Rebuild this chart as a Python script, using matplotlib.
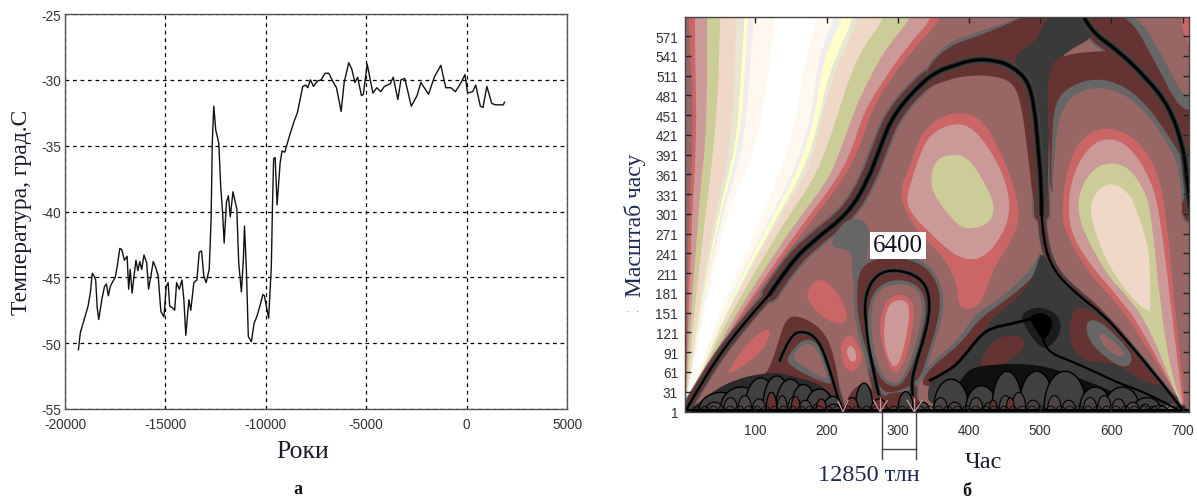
import numpy as np
import matplotlib
matplotlib.use("Agg")
import matplotlib.pyplot as plt
from matplotlib.patches import PathPatch
from matplotlib.path import Path

W, H = 1197, 502
SERIF = "Liberation Serif"
SANS = "Liberation Sans"
plt.rcParams["axes.unicode_minus"] = False

# --- panel a: temperature record ---
YEARS = [-19332, -19236, -19045, -18854, -18740, -18644, -18549, -18472, -18396, -18319,
         -18167, -18033, -17937, -17842, -17746, -17613, -17498, -17403, -17269, -17173,
         -17040, -16906, -16830, -16753, -16658, -16562, -16467, -16371, -16276, -16180,
         -16066, -15932, -15837, -15722, -15607, -15493, -15359, -15225, -15073, -14958,
         -14863, -14786, -14653, -14538, -14442, -14309, -14175, -14080, -13984, -13831,
         -13736, -13583, -13430, -13316, -13201, -13087, -12972, -12819, -12724, -12666,
         -12590, -12494, -12342, -12246, -12151, -12074, -11960, -11864, -11769, -11635,
         -11444, -11349, -11215, -11119, -11062, -10967, -10871, -10718, -10585, -10451,
         -10298, -10145, -10069, -9974, -9859, -9725, -9668, -9611, -9534, -9439,
         -9286, -9191, -9057, -8961, -8770, -8579, -8427, -8293, -8159, -8006,
         -7911, -7777, -7624, -7434, -7243, -7052, -6861, -6670, -6479, -6249,
         -6097, -5867, -5715, -5562, -5428, -5237, -5142, -4951, -4798, -4664,
         -4473, -4282, -4091, -3805, -3652, -3423, -3270, -3079, -2755, -2468,
         -2277, -1895, -1609, -1284, -1036, -787, -558, -272, -81, 53,
         301, 454, 683, 817, 1008, 1256, 1447, 1829, 1886]
TEMPS = [-50.5, -49.2, -48.2, -47.2, -46.2, -44.7, -44.9, -45.2, -47.3, -48.2,
         -46.7, -45.7, -45.5, -46.4, -45.7, -45.3, -45.0, -44.2, -42.8, -42.9,
         -43.7, -43.4, -45.9, -44.4, -46.2, -44.9, -43.7, -44.5, -43.8, -44.4,
         -43.3, -43.9, -45.9, -44.9, -43.8, -44.2, -44.9, -47.6, -48.0, -45.7,
         -45.4, -47.2, -47.3, -47.5, -45.4, -45.9, -45.2, -46.7, -49.4, -46.7,
         -47.5, -45.4, -45.2, -43.1, -43.0, -44.9, -45.4, -44.4, -40.6, -34.8,
         -32.0, -33.8, -34.8, -38.1, -40.1, -42.4, -39.3, -38.8, -40.4, -38.5,
         -39.8, -43.9, -46.1, -43.7, -41.1, -44.4, -49.5, -49.9, -48.5, -48.0,
         -47.2, -46.3, -46.4, -47.2, -48.1, -44.2, -39.6, -36.0, -35.9, -39.5,
         -36.3, -35.4, -35.5, -35.0, -34.0, -33.1, -32.5, -31.5, -30.5, -30.4,
         -30.6, -30.0, -30.5, -30.1, -30.0, -29.5, -29.5, -30.1, -30.6, -32.4,
         -30.2, -28.7, -29.2, -30.2, -29.8, -31.2, -31.1, -28.8, -30.0, -31.0,
         -30.6, -30.9, -30.5, -30.3, -29.8, -31.5, -30.0, -29.9, -32.0, -31.2,
         -30.2, -31.1, -29.8, -28.9, -30.6, -30.6, -30.9, -30.2, -29.6, -31.0,
         -30.9, -30.4, -32.0, -32.1, -30.5, -31.8, -31.9, -31.9, -31.7]
A_XTICKS = [-20000, -15000, -10000, -5000, 0, 5000]
A_YTICKS = [-25, -30, -35, -40, -45, -50, -55]

B_XTICKS = [100, 200, 300, 400, 500, 600, 700]
B_YTICKS = [1, 31, 61, 91, 121, 151, 181, 211, 241, 271, 301, 331, 361, 391, 421,
            451, 481, 511, 541, 571]

BASE = "#996666"
SALMON = "#cc6666"
PINK = "#cc9999"
OLIVE = "#cccc99"
PEACH = "#f0d8c8"
PALE = "#e6e6d2"
YELLOW = "#ffffcc"
LIGHT = "#eeeeee"
CREAM = "#fff8f0"
MAROON = "#663333"
GRAY = "#666666"
DARK = "#3a3a3a"

# scales at which the fan bands were read, then left/right edge of each band
FAN_S = [605, 554, 503, 453, 402, 352, 301, 200, 100, 0]
FAN_BANDS = [
    (SALMON, [6, 8, 11, 12, 11, 9, 7, 5, 3, 1], [368, 324, 287, 261, 247, 223, 186, 115, 52, 1]),
    (PINK, [15, 15, 16, 17, 16, 14, 11, 8, 4, 1], [354, 312, 279, 251, 237, 214, 177, 110, 50, 1]),
    (OLIVE, [32, 32, 32, 31, 29, 24, 20, 13, 6, 1], [324, 284, 258, 237, 221, 202, 165, 102, 46, 1]),
    (PEACH, [51, 49, 48, 45, 41, 36, 30, 19, 9, 1], [286, 251, 230, 216, 200, 181, 148, 92, 41, 1]),
    (PALE, [73, 71, 70, 68, 63, 55, 43, 27, 12, 1], [249, 226, 207, 195, 184, 167, 137, 85, 38, 1]),
    (YELLOW, [85, 82, 79, 76, 71, 60, 48, 30, 14, 1], [240, 219, 200, 191, 179, 160, 133, 82, 37, 1]),
    (LIGHT, [90, 87, 84, 81, 75, 64, 51, 32, 15, 1], [226, 202, 190, 184, 171, 153, 126, 78, 35, 1]),
    (CREAM, [98, 95, 91, 88, 81, 69, 54, 34, 16, 1], [214, 193, 184, 179, 165, 148, 123, 76, 34, 1]),
    ("#ffffff", [127, 123, 117, 109, 99, 81, 60, 38, 17, 1], [188, 174, 165, 158, 146, 130, 111, 69, 31, 1]),
]

CORNER_SALMON = [(690, 640), (730, 640), (730, 540), (708, 555), (697, 595)]
TOP_GRAY = [(335, 505), (345, 535), (373, 562), (401, 573), (439, 587), (481, 603), (528, 610),
            (530, 540), (480, 510), (400, 515)]
TOP_MAROON = [(335, 500), (345, 530), (373, 556), (401, 567), (439, 582), (481, 603), (522, 610),
              (510, 578), (495, 545), (487, 525), (439, 530), (406, 532), (373, 520)]
RB_GRAY = [(550, 610), (570, 579), (607, 551), (649, 508), (682, 463), (701, 402), (720, 355),
           (725, 490), (703, 473), (673, 539), (633, 610)]
RB_MAROON = [(550, 610), (570, 579), (607, 551), (649, 508), (682, 463), (701, 402), (720, 355),
             (725, 460), (696, 458), (663, 529), (621, 610)]
CENTER_TOP = [(512, 610), (562, 610), (578, 570), (540, 550), (518, 525), (511, 490), (513, 400),
              (508, 301), (497, 301), (492, 430), (483, 505), (462, 530), (470, 548), (495, 562)]
ARCH_MAROON = [(300, 448), (336, 490), (373, 506), (406, 512), (439, 510), (462, 500),
               (473, 470), (482, 400), (492, 301), (510, 301), (502, 460), (490, 525),
               (439, 545), (373, 535), (330, 510)]
R_MAROON = [(513, 290), (513, 427), (509, 495), (516, 530), (532, 542), (574, 548), (607, 548),
            (649, 505), (682, 455), (701, 400), (722, 365), (722, 290)]
R_GRAY = [(515, 290), (516, 420), (521, 472), (541, 495), (579, 508), (618, 496), (651, 465),
          (684, 414), (703, 378), (704, 290)]
R_BASE = [(516, 301), (520, 392), (525, 443), (542, 481), (579, 495), (616, 485), (649, 455),
          (682, 404), (696, 367), (700, 301), (700, 149), (703, 17), (703, 14), (673, 40), (630, 104),
          (593, 149), (553, 190), (530, 223), (520, 265)]
R_SALMON = [(530, 301), (536, 362), (550, 404), (574, 428), (602, 432), (637, 414), (665, 367),
            (677, 301), (689, 159), (699, 58), (703, 12), (701, 10), (635, 123), (612, 160), (565, 215),
            (537, 270)]
R_PINK = [(539, 301), (543, 352), (564, 399), (593, 418), (626, 405), (656, 352), (668, 301),
          (684, 159), (696, 48), (701, 10), (699, 9), (645, 122), (616, 167), (574, 218), (546, 265)]
R_OLIVE = [(553, 301), (555, 336), (574, 370), (600, 380), (626, 370), (647, 336), (656, 301),
           (670, 149), (684, 58), (700, 9), (698, 8), (654, 127), (626, 172), (598, 203), (584, 228),
           (565, 265)]
R_PEACH = [(570, 301), (573, 326), (588, 344), (607, 347), (628, 328), (637, 301), (647, 270),
           (654, 235), (655, 155), (653, 153), (638, 162), (607, 203), (584, 250)]
M_SALMON = [(315, 367), (329, 414), (345, 436), (359, 448), (387, 456), (417, 446), (441, 404),
            (464, 341), (471, 301), (464, 268), (431, 213), (417, 160), (385, 155), (383, 200),
            (359, 243), (345, 253), (310, 301), (303, 340)]
M_PINK = [(319, 352), (333, 397), (345, 420), (368, 436), (398, 438), (427, 404), (452, 352),
          (459, 301), (441, 258), (417, 232), (392, 232), (368, 248), (345, 273), (323, 295),
          (311, 320)]
M_OLIVE = [(378, 392), (398, 387), (417, 358), (434, 321), (435, 301), (427, 286), (406, 278),
           (387, 281), (371, 301), (357, 319), (345, 346), (352, 384)]
L_SALMON_1 = [(172, 186), (191, 206), (216, 181), (230, 149), (225, 132), (200, 139), (175, 164)]
L_SALMON_2 = [(62, 62), (88, 105), (118, 130), (121, 114), (104, 86), (69, 60), (62, 60)]
L_SALMON_3 = [(219, 103), (233, 122), (249, 93), (249, 73), (233, 57), (221, 78)]
L_PINK_3 = [(226, 93), (235, 104), (244, 83), (235, 73)]
GAP_GRAY = [(200, 248), (226, 296), (261, 290), (259, 235), (246, 210), (245, 178), (241, 178), (235, 210), (237, 248)]
CAP_GRAY = [(237, 174), (240, 221), (268, 240), (314, 240), (349, 221), (366, 179), (361, 134),
            (346, 88), (336, 44), (300, 24), (272, 24), (249, 98), (240, 139)]
CAP_MAROON = [(242, 174), (245, 217), (270, 234), (312, 234), (345, 217), (361, 179), (356, 134),
              (342, 88), (331, 48), (300, 30), (275, 30), (254, 98), (245, 139)]
C_RING = [(258, 169), (280, 200), (321, 200), (340, 174), (338, 134), (318, 60), (298, 34),
          (273, 50), (258, 108)]
C_BASE = [(263, 169), (282, 194), (319, 194), (335, 174), (333, 134), (314, 63), (298, 40),
          (277, 53), (263, 108)]
C_SALMON = [(275, 149), (292, 180), (319, 175), (324, 149), (314, 88), (298, 54), (285, 73), (275, 114)]
C_PINK = [(282, 149), (292, 170), (314, 170), (317, 144), (307, 88), (296, 64), (285, 83), (280, 114)]
D_MAROON = [(118, 62), (130, 98), (142, 142), (160, 147), (193, 128), (211, 88), (223, 0),
            (134, 24), (109, 56)]
D_GRAY = [(144, 84), (168, 114), (192, 102), (208, 54), (208, 40), (175, 54), (146, 72)]
D_BASE = [(153, 88), (170, 106), (186, 98), (200, 58), (200, 48), (177, 63), (155, 78)]
BAND_GRAY = [(504, 255), (493, 227), (479, 207), (437, 166), (409, 151), (385, 108), (335, 66),
             (335, 30), (504, 90)]
BAND_MAROON = [(499, 222), (488, 202), (451, 169), (413, 141), (390, 105), (335, 58), (335, 30),
               (504, 90)]
CENTER_DARK = [(502, 245), (522, 205), (555, 177), (593, 146), (630, 101), (672, 45), (705, 0),
               (345, -5), (340, 46), (373, 60), (392, 80), (415, 113), (434, 145), (457, 162),
               (486, 195), (497, 228)]
LOW_MAROON = [(544, 156), (565, 160), (590, 141), (628, 98), (676, 41), (674, 39), (645, 46), (626, 61),
              (600, 76), (556, 76), (540, 113)]
LOW_GRAY = [(563, 136), (579, 142), (609, 114), (632, 83), (621, 65), (593, 81), (568, 108)]
LOW_BASE = [(582, 123), (600, 111), (622, 86), (607, 84), (586, 103)]
LEFT_LOBE = [(411, 66), (432, 110), (467, 119), (480, 106), (469, 86), (429, 62)]
BLOB_DARK = [(470, 150), (502, 162), (530, 144), (527, 113), (505, 92), (483, 120)]
BLOB = [(483, 146), (502, 152), (518, 141), (515, 122), (504, 107), (493, 126)]
COMB_BLACK = [(392, 63), (429, 73), (499, 73), (551, 53), (602, 32), (640, 0), (368, 0)]
COMB_LEFT = [(1, 0), (22, 15), (45, 35), (74, 50), (106, 58), (134, 60), (155, 53), (191, 43),
             (214, 17), (223, 0)]
COMB_MID = [(223, 0), (235, 35), (255, 45), (275, 20), (290, 30), (312, 30), (330, 18), (345, 0)]

# ridge lines (time, scale) with a relative width
RIDGE_A_LOW = [(1, 0), (31, 58), (78, 129), (120, 179)]
RIDGE_A_MID = [(120, 179), (148, 225), (181, 260), (230, 301), (258, 352), (275, 402),
               (294, 453), (336, 503), (359, 519), (373, 524), (406, 536), (439, 534), (462, 524),
               (483, 503), (492, 463), (497, 402), (502, 341), (502, 301)]
RIDGE_A_DOWN = [(502, 301), (504, 260), (518, 215), (551, 179), (588, 149), (626, 103), (668, 48), (701, 2)]
RIDGE_B = [(556, 610), (570, 579), (607, 551), (649, 508), (682, 463), (701, 402), (705, 362), (712, 300)]
RIDGE_C = [(275, 17), (263, 73), (254, 139), (254, 179), (270, 210), (298, 217), (331, 205),
           (345, 179), (343, 134), (322, 63), (319, 38), (322, 7)]
RIDGE_D = [(134, 78), (148, 116), (167, 124), (188, 111), (202, 73), (214, 28), (221, 2)]
RIDGE_E = [(345, 48), (373, 63), (392, 83), (415, 116), (434, 129), (462, 134), (495, 144)]
RIDGE_F = [(504, 113), (506, 93), (546, 76), (579, 60), (612, 43), (654, 27), (696, 2)]
RIDGES = [(RIDGE_A_LOW, 0.6), (RIDGE_A_MID, 1.0), (RIDGE_A_DOWN, 0.55), (RIDGE_B, 1.0),
          (RIDGE_C, 0.65), (RIDGE_D, 0.55)]
BLACK_RIDGES = [(RIDGE_E, 2.8), (RIDGE_F, 2.2)]
RIDGE_OUTER = [(GRAY, 19), (MAROON, 15)]
RIDGE_INNER = [("#444444", 8), ("#222222", 5), ("#000000", 2.5)]

# small black forks along the bottom: left end, right end, height
BIG_FORKS = [(20, 85, 30), (50, 110, 38), (85, 130, 52), (110, 150, 55), (128, 170, 50),
             (150, 185, 42), (170, 210, 35), (195, 222, 24), (240, 265, 44), (300, 322, 31),
             (350, 400, 50), (395, 440, 40), (432, 475, 62), (470, 520, 62), (505, 565, 62),
             (555, 600, 38), (590, 640, 38), (630, 670, 22)]
SMALL_FORKS = [(30, 55, 15), (55, 75, 22), (75, 95, 25), (95, 115, 20), (115, 130, 30),
               (130, 145, 25), (145, 160, 22), (160, 180, 18), (180, 200, 14), (200, 220, 12),
               (226, 245, 22), (262, 285, 20), (325, 345, 15), (350, 370, 22), (370, 390, 15),
               (400, 420, 22), (420, 440, 15), (442, 460, 25), (460, 480, 30), (480, 500, 18),
               (510, 530, 25), (530, 550, 18), (560, 580, 22), (580, 600, 25), (600, 620, 20),
               (620, 640, 15), (640, 655, 12), (655, 680, 10)]
MAROON_FORKS = [(115, 130, 30), (150, 163, 24), (185, 200, 20), (226, 245, 22), (262, 285, 20),
                (428, 440, 18), (452, 464, 22)]
TINY_NODES = [12, 24, 35, 47, 58, 71, 84, 96, 108, 121, 133, 146, 158, 170, 183, 196, 208, 221,
              236, 250, 263, 276, 288, 300, 312, 323, 338, 351, 364, 377, 390, 403, 416, 429,
              443, 456, 468, 482, 495, 508, 522, 535, 548, 561, 574, 587, 600, 613, 626, 639,
              652, 665, 678, 690, 702]
PINK_SPIKES = [(275, 0, 266, 18), (275, 0, 275, 22), (275, 0, 285, 17), (323, 0, 313, 18),
               (323, 0, 323, 22), (323, 0, 334, 17), (223, 0, 216, 16), (223, 0, 230, 18)]


def px_x(x):
    return x / W


def px_y(y):
    return 1 - y / H


def lw_px(px):
    return px * 72.0 / 100.0


def closed_path(pts):
    pts = np.array(pts, dtype=float)
    nxt = np.roll(pts, -1, axis=0)
    mid = (pts + nxt) / 2
    verts = [mid[-1]]
    codes = [Path.MOVETO]
    for p, m in zip(pts, mid):
        verts += [p, m]
        codes += [Path.CURVE3, Path.CURVE3]
    return Path(verts, codes)


def open_path(pts):
    pts = np.array(pts, dtype=float)
    verts = [pts[0]]
    codes = [Path.MOVETO]
    for i in range(1, len(pts) - 1):
        end = pts[i + 1] if i == len(pts) - 2 else (pts[i] + pts[i + 1]) / 2
        verts += [pts[i], end]
        codes += [Path.CURVE3, Path.CURVE3]
    return Path(verts, codes)


def blob(ax, pts, color):
    ax.add_patch(PathPatch(closed_path(pts), facecolor=color, edgecolor="none"))


def fork(ax, left, right, height, face=None, lw=1.4):
    top = height * 1.33
    verts = [(left, 0), (left, top), (right, top), (right, 0)]
    codes = [Path.MOVETO, Path.CURVE4, Path.CURVE4, Path.CURVE4]
    ax.add_patch(PathPatch(Path(verts, codes), facecolor=face if face else "none",
                           edgecolor="#000000", linewidth=lw_px(lw)))


def stroke_ridges(ax, stack):
    # one layer at a time so crossings merge
    for color, width in stack:
        for pts, scale in RIDGES:
            px = max(width * scale, 2.0) if color == "#000000" else width * scale
            ax.add_patch(PathPatch(open_path(pts), facecolor="none", edgecolor=color,
                                   linewidth=lw_px(px), capstyle="round", joinstyle="round"))


def draw_panel_a(fig):
    ax = fig.add_axes([px_x(65), px_y(410), 502 / W, 395 / H])
    ax.plot(YEARS, TEMPS, color="#111111", linewidth=1.0, zorder=3)
    ax.set_xlim(-20000, 5000)
    ax.set_ylim(-55, -25)
    ax.set_xticks(A_XTICKS)
    ax.set_yticks(A_YTICKS)
    ax.grid(True, color="#000000", linestyle=(0, (3, 3)), linewidth=0.9)
    ax.tick_params(length=0, labelsize=9.8, labelcolor="#333333", pad=3)
    ax.tick_params(axis="x", pad=6)
    for lab in ax.get_xticklabels() + ax.get_yticklabels():
        lab.set_family(SANS)
    for spine in ax.spines.values():
        spine.set_color("#555555")
        spine.set_linewidth(1.0)


def draw_panel_b(fig):
    ax = fig.add_axes([px_x(685), px_y(413), 504 / W, 395 / H])
    ax.set_xlim(1, 709)
    ax.set_ylim(0, 600)
    ax.set_facecolor(BASE)

    for color, left, right in FAN_BANDS:
        left_side = [(t, s) for t, s in zip(left[::-1], FAN_S[::-1])] + [(left[0], 660)]
        right_side = [(right[0], 660)] + [(t, s) for t, s in zip(right, FAN_S)]
        ax.add_patch(PathPatch(open_path(left_side + right_side), facecolor=color, edgecolor="none"))

    stroke_ridges(ax, RIDGE_OUTER)

    # bands around the arch and the central dark column
    for pts, color in [(TOP_GRAY, GRAY), (TOP_MAROON, MAROON), (RB_GRAY, GRAY), (RB_MAROON, MAROON),
                       (CORNER_SALMON, SALMON), (ARCH_MAROON, MAROON), (BAND_GRAY, GRAY), (BAND_MAROON, MAROON),
                       (CENTER_TOP, DARK), (R_MAROON, MAROON), (R_GRAY, GRAY)]:
        blob(ax, pts, color)
    blob(ax, CENTER_DARK, DARK)

    # nested lobes
    for pts, color in [(R_BASE, BASE), (R_SALMON, SALMON), (R_PINK, PINK), (R_OLIVE, OLIVE), (R_PEACH, PEACH),
                       (M_SALMON, SALMON), (M_PINK, PINK), (M_OLIVE, OLIVE),
                       (L_SALMON_1, SALMON), (L_SALMON_2, SALMON), (L_SALMON_3, SALMON), (L_PINK_3, PINK),
                       (GAP_GRAY, GRAY), (CAP_GRAY, GRAY), (CAP_MAROON, MAROON), (D_MAROON, MAROON),
                       (D_GRAY, GRAY), (D_BASE, BASE),
                       (LOW_MAROON, MAROON), (LOW_GRAY, GRAY), (LOW_BASE, BASE), (LEFT_LOBE, MAROON),
                       (BLOB_DARK, "#1c1c1c")]:
        blob(ax, pts, color)

    stroke_ridges(ax, RIDGE_INNER)
    for pts, px in BLACK_RIDGES:
        ax.add_patch(PathPatch(open_path(pts), facecolor="none", edgecolor="#000000",
                               linewidth=lw_px(px), capstyle="round"))

    # centre lobe sits inside its ridge
    for pts, color in [(C_RING, GRAY), (C_BASE, BASE), (C_SALMON, SALMON), (C_PINK, PINK)]:
        blob(ax, pts, color)
    blob(ax, BLOB, "#000000")

    # comb of forks at the bottom
    blob(ax, COMB_BLACK, "#101010")
    blob(ax, COMB_LEFT, "#2a2a2a")
    blob(ax, COMB_MID, MAROON)
    for left, right, height in BIG_FORKS:
        fork(ax, left, right, height, face="#404040", lw=1.4)
    for left, right, height in SMALL_FORKS:
        fork(ax, left, right, height, face="#4a4444", lw=1.1)
    for left, right, height in MAROON_FORKS:
        fork(ax, left, right, height, face=MAROON, lw=1.1)
    for t0, s0, t1, s1 in PINK_SPIKES:
        ax.plot([t0, t1], [s0, s1], color=PINK, linewidth=0.9)
    for left, right in zip(TINY_NODES[:-1], TINY_NODES[1:]):
        fork(ax, left, right, 9, lw=0.8)
    ax.fill_between([1, 709], 0, 4, color="#000000", linewidth=0)

    ax.set_xticks(B_XTICKS)
    ax.set_yticks(B_YTICKS)
    ax.tick_params(direction="in", length=4, width=1.0, top=True, right=True, color="#222222",
                   labelsize=9.8, labelcolor="#333333", pad=5)
    ax.tick_params(axis="x", pad=8)
    for lab in ax.get_xticklabels() + ax.get_yticklabels():
        lab.set_family(SANS)
    for spine in ax.spines.values():
        spine.set_color("#444444")
        spine.set_linewidth(1.0)

    # bracket under the axis
    for t in (278, 325):
        ax.plot([t, t], [0, -72], color="#444444", linewidth=1.0, clip_on=False)
    ax.plot([278, 325], [-56, -56], color="#444444", linewidth=1.0, clip_on=False)
    ax.text(300, 253, "6400", family=SERIF, fontsize=18, color="#111122", ha="center", va="center",
            bbox=dict(facecolor="white", edgecolor="none", pad=2))


def main():
    fig = plt.figure(figsize=(W / 100, H / 100), dpi=100)
    draw_panel_a(fig)
    draw_panel_b(fig)

    ink = "#1a1a2a"
    navy = "#1f2a55"
    fig.text(px_x(22), px_y(212), "Температура, град.С", family=SERIF, fontsize=17, color=ink,
             rotation=90, ha="center", va="center")
    fig.text(px_x(303), px_y(452), "Роки", family=SERIF, fontsize=18.5, color=ink, ha="center", va="center")
    fig.text(px_x(298), px_y(490), "а", family=SERIF, fontsize=13, color="#111111", weight="bold",
             ha="center", va="center")
    fig.text(px_x(635), px_y(225), "Масштаб часу", family=SERIF, fontsize=17, color=navy,
             rotation=90, ha="center", va="center")
    fig.text(px_x(633), px_y(311), ".   .", family=SANS, fontsize=6, color="#555555", ha="center", va="center")
    fig.text(px_x(869), px_y(476), "12850 тлн", family=SERIF, fontsize=17.5, color=navy, ha="center", va="center")
    fig.text(px_x(983), px_y(463), "Час", family=SERIF, fontsize=17.5, color=ink, ha="center", va="center")
    fig.text(px_x(967), px_y(492), "б", family=SERIF, fontsize=13, color="#111111", weight="bold",
             ha="center", va="center")

    fig.savefig("out.png", dpi=100)


if __name__ == "__main__":
    main()
